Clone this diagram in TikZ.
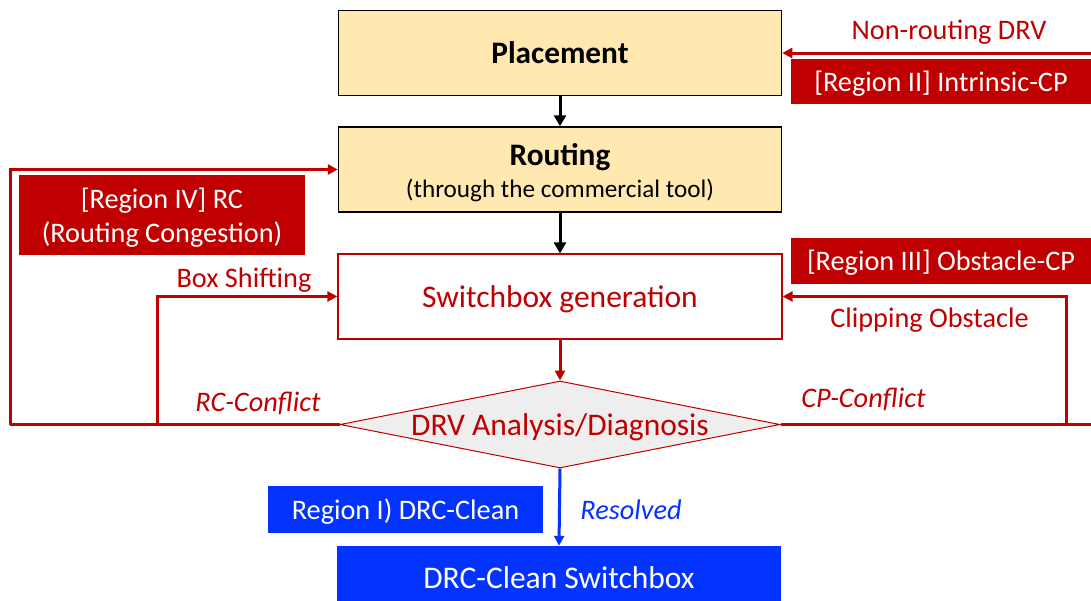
\documentclass[tikz,border=0pt]{standalone}
\usepackage{fontspec}
\setmainfont{Carlito}
\usetikzlibrary{arrows.meta,shapes.geometric}
\definecolor{dred}{HTML}{C00000}
\definecolor{pale}{HTML}{FFE9B0}
\definecolor{vblue}{HTML}{0432FF}
\definecolor{lgray}{HTML}{EEEEEE}
\newcommand{\fs}[1]{\fontsize{#1}{#1}\selectfont}
\tikzset{
  % line box of a single text line: ascent/descent of the font
  lineS/.style={text height=26.9pt, text depth=7.6pt},
  lineL/.style={text height=29.9pt, text depth=8.4pt},
  stage/.style={draw=black, line width=1.5pt, fill=pale, minimum width=443pt, minimum height=85pt, align=center, inner sep=0pt},
  tag/.style={fill=dred, text=white, inner sep=0pt, align=center, font=\fs{28.3}},
  bluetag/.style={fill=vblue, text=white, inner sep=0pt, align=center, font=\fs{28.3}},
  redtxt/.style={text=dred, inner sep=0pt, font=\fs{28.3}, lineS},
  redflow/.style={draw=dred, line width=3pt, -{Triangle[length=10pt,width=10pt]}},
  redline/.style={draw=dred, line width=3pt},
  blackflow/.style={draw=black, line width=3pt, -{Triangle[length=11pt,width=12pt]}},
}
\begin{document}
\begin{tikzpicture}[x=1pt,y=-1pt]
\useasboundingbox (0,0) rectangle (1091,600);

% main flow
\node[stage, lineL] (place) at (560,53) {\fs{31.3}\bfseries Placement};
\node[stage, text height=56pt, text depth=0pt] (route) at (560,169.5) {{\fs{31.3}\bfseries Routing}\\[7pt]{\fs{25.2}(through the commercial tool)}};
\node[draw=dred, line width=1.2pt, fill=white, minimum width=444pt, minimum height=85pt, inner sep=0pt, text=dred, font=\fs{31.5}, lineL] (sw) at (560,296.5) {Switchbox generation};
\node[shape=diamond, aspect=5.06, draw=dred, line width=1pt, fill=lgray, minimum width=440pt, minimum height=87pt, inner sep=0pt, text=dred, font=\fs{31.5}, text height=21.5pt, text depth=0pt] (diag) at (560,424.5) {DRV Analysis/Diagnosis};
\node[bluetag, minimum width=444pt, minimum height=64pt, font=\fs{31.5}, lineL] (clean) at (559,578) {DRC-Clean Switchbox};

% region tags
\node[bluetag, minimum width=275pt, minimum height=47pt, lineS] (r1) at (405.5,509.5) {Region I) DRC-Clean};
\node[tag, minimum width=300pt, minimum height=45pt, lineS] (r2) at (941,81.5) {[Region II] Intrinsic-CP};
\node[tag, minimum width=300pt, minimum height=46pt, lineS] (r3) at (941,261) {[Region III] Obstacle-CP};
\node[tag, minimum width=286pt, minimum height=80pt, text height=55pt, text depth=0pt] (r4) at (162,215) {[Region IV] RC\\[6pt](Routing Congestion)};

% edge labels
\node[redtxt] (nr) at (949,30) {Non-routing DRV};
\node[redtxt] (clip) at (929.5,318) {Clipping Obstacle};
\node[redtxt, font=\fs{28.3}\itshape] (cpc) at (863.5,398) {CP-Conflict};
\node[redtxt] (box) at (244,278) {Box Shifting};
\node[redtxt, font=\fs{28.3}\itshape] (rcc) at (258,402) {RC-Conflict};
\node[text=vblue, inner sep=0pt, font=\fs{28.3}\itshape, lineS] (res) at (631,510) {Resolved};

% turning points of the feedback loops
\coordinate (lo) at (10,424.5);
\coordinate (li) at (157,424.5);
\coordinate (ro) at (1095,424.5);
\coordinate (ri) at (1066,424.5);
\coordinate (nrin) at (1095,53);

% connectors
\draw[blackflow] (place.south) -- (route.north);
\draw[blackflow] (route.south) -- (sw.north);
\draw[redflow] (sw.south) -- (diag.north);
\draw[draw=vblue, line width=3pt, -{Triangle[length=10pt,width=10pt]}] (diag.south) -- (clean.north);
\draw[redline] (diag.west) -- (lo);
\draw[redflow] (lo) |- (route.west);
\draw[redflow] (li) |- (sw.west);
\draw[redline] (diag.east) -- (ro);
\draw[redflow] (ri) |- (sw.east);
\draw[redflow] (nrin) -- (place.east);
\end{tikzpicture}
\end{document}
